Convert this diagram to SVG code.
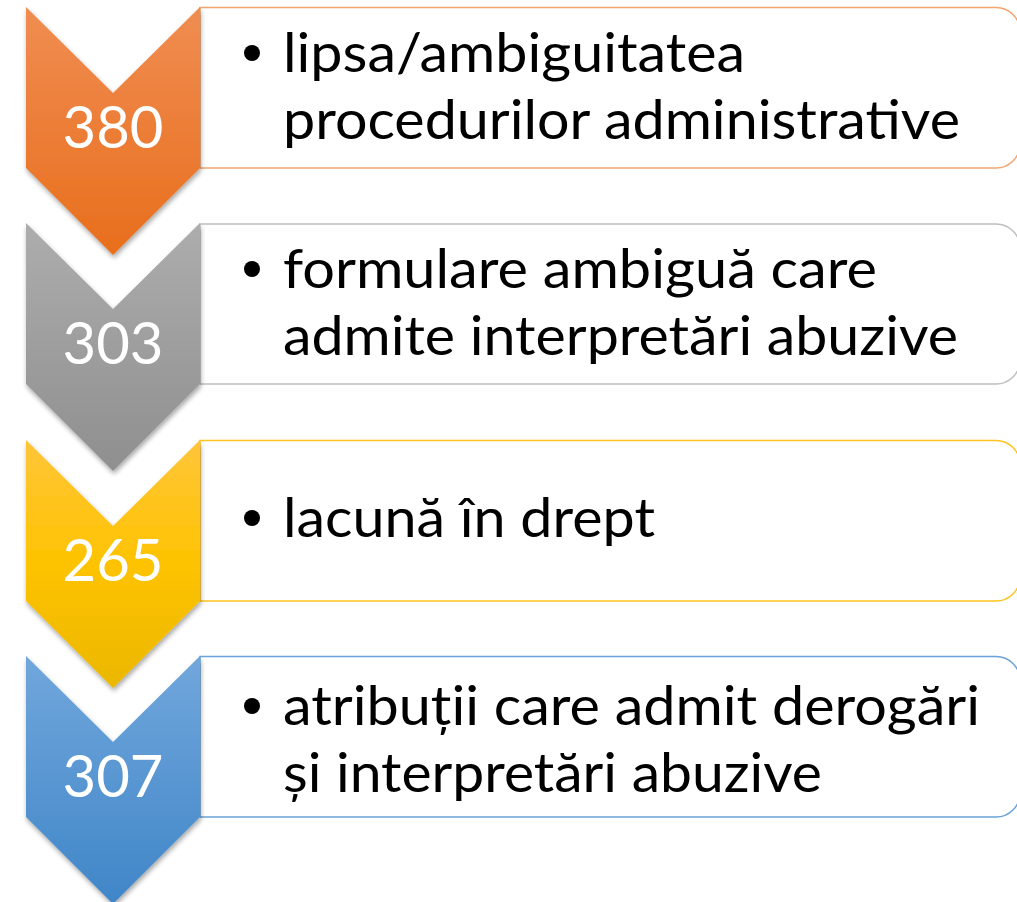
<svg xmlns="http://www.w3.org/2000/svg" width="1017" height="902" viewBox="0 0 1017 902">
<style>
.num{font-family:"Lato","Liberation Sans",sans-serif;font-size:58px;fill:#ffffff;text-anchor:middle}
.txt{font-family:"Lato","Liberation Sans",sans-serif;font-size:55px;fill:#000000}
.box{fill:#ffffff;stroke-width:1.5}
</style>
<defs>
<linearGradient id="gO" x1="0" y1="0" x2="0" y2="1"><stop offset="0" stop-color="#F08D52"/><stop offset="1" stop-color="#E86E1C"/></linearGradient>
<linearGradient id="gG" x1="0" y1="0" x2="0" y2="1"><stop offset="0" stop-color="#ADADAD"/><stop offset="1" stop-color="#8F8F8F"/></linearGradient>
<linearGradient id="gY" x1="0" y1="0" x2="0" y2="1"><stop offset="0" stop-color="#FFC53A"/><stop offset="0.5" stop-color="#FEC300"/><stop offset="1" stop-color="#EBB700"/></linearGradient>
<linearGradient id="gB" x1="0" y1="0" x2="0" y2="1"><stop offset="0" stop-color="#71A7DC"/><stop offset="1" stop-color="#4086C8"/></linearGradient>
<filter id="sh" x="-20%" y="-20%" width="140%" height="140%"><feGaussianBlur in="SourceAlpha" stdDeviation="2.5"/><feOffset dx="1" dy="3"/><feComponentTransfer><feFuncA type="linear" slope="0.35"/></feComponentTransfer><feMerge><feMergeNode/><feMergeNode in="SourceGraphic"/></feMerge></filter>
<path id="chev" d="M0,0 L87,86 L174,0 L174,161 L87,248 L0,161 Z"/>
</defs>
<g id="connectors"/>
<g id="node1">
<path class="box" stroke="#F4A56E" d="M200,7.5 H996 A24,24 0 0 1 1020,31.5 V144 A24,24 0 0 1 996,168 H200 Z"/>
<use href="#chev" x="26" y="7" fill="url(#gO)" filter="url(#sh)"/>
<text class="num" x="113" y="148">380</text>
<circle cx="252" cy="53" r="8"/>
<text class="txt" x="283" y="72" textLength="462" lengthAdjust="spacingAndGlyphs">lipsa/ambiguitatea</text>
<text class="txt" x="283" y="139" textLength="677" lengthAdjust="spacingAndGlyphs">procedurilor administrative</text>
</g>
<g id="node2">
<path class="box" stroke="#BFBFBF" d="M200,224 H996 A24,24 0 0 1 1020,248 V360 A24,24 0 0 1 996,384 H200 Z"/>
<use href="#chev" x="26" y="223" fill="url(#gG)" filter="url(#sh)"/>
<text class="num" x="113" y="364">303</text>
<circle cx="252" cy="269" r="8"/>
<text class="txt" x="283" y="288" textLength="594" lengthAdjust="spacingAndGlyphs">formulare ambiguă care</text>
<text class="txt" x="283" y="355" textLength="675" lengthAdjust="spacingAndGlyphs">admite interpretări abuzive</text>
</g>
<g id="node3">
<path class="box" stroke="#FFC41F" d="M200,440.5 H996 A24,24 0 0 1 1020,464.5 V577 A24,24 0 0 1 996,601 H200 Z"/>
<use href="#chev" x="26" y="440" fill="url(#gY)" filter="url(#sh)"/>
<text class="num" x="113" y="581">265</text>
<circle cx="252" cy="518" r="8"/>
<text class="txt" x="283" y="537" textLength="372" lengthAdjust="spacingAndGlyphs">lacună în drept</text>
</g>
<g id="node4">
<path class="box" stroke="#6AA3DA" d="M200,656.5 H996 A24,24 0 0 1 1020,680.5 V793 A24,24 0 0 1 996,817 H200 Z"/>
<use href="#chev" x="26" y="656" fill="url(#gB)" filter="url(#sh)"/>
<text class="num" x="113" y="797">307</text>
<circle cx="252" cy="706" r="8"/>
<text class="txt" x="283" y="725" textLength="697" lengthAdjust="spacingAndGlyphs">atribuții care admit derogări</text>
<text class="txt" x="283" y="792" textLength="539" lengthAdjust="spacingAndGlyphs">și interpretări abuzive</text>
</g>
</svg>
